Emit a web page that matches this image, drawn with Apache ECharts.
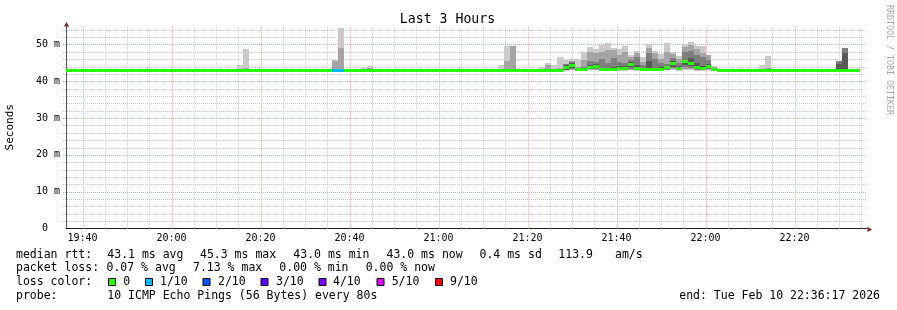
<!DOCTYPE html>
<html><head><meta charset="utf-8">
<script src="https://cdn.jsdelivr.net/npm/echarts@6/dist/echarts.min.js"></script>
<style>html,body{margin:0;padding:0;background:#fff}#c{width:897px;height:310px}</style>
</head><body><div id="c"></div>
<script>
// ---------- data ----------
const timeStart = 70577;      // 19:36:17 (seconds of day)
const timeEnd = 81377;        // 22:36:17
const stepSeconds = 80;
const firstStepStart = 70560; // first RRD step boundary
const timeTicks = ['19:40','20:00','20:20','20:40','21:00','21:20','21:40','22:00','22:20'];
const yMax = 55;
const yTickValues = [0, 10, 20, 30, 40, 50];

// median rtt (ms) per 80 s step
const median = [
 43.0,43.0,43.0,43.0,43.0,43.0,43.0,43.0,43.0,43.0,
 43.0,43.0,43.0,43.0,43.0,43.0,43.0,43.0,43.0,43.0,
 43.0,43.0,43.0,43.0,43.0,43.0,43.0,43.0,43.0,43.0,
 43.0,43.0,43.0,43.0,43.0,43.0,43.0,43.0,43.0,43.0,
 43.0,43.0,43.0,43.0,43.0,43.0,43.0,43.0,43.0,43.0,
 43.0,43.0,43.0,43.0,43.0,43.0,43.0,43.0,43.0,43.0,
 43.0,43.0,43.0,43.0,43.0,43.0,43.0,43.0,43.0,43.0,
 43.0,43.0,43.0,43.0,43.0,43.0,43.0,43.0,43.0,43.0,
 43.0,43.0,43.0,43.0,43.8,44.3,43.1,43.1,43.7,44.1,
 43.1,43.1,43.3,43.4,43.5,44.6,43.5,43.1,43.1,43.1,
 43.2,43.6,44.9,43.4,45.3,44.8,43.6,43.4,43.9,43.1,
 43.0,43.0,43.0,43.0,43.0,43.0,43.0,43.0,43.0,43.0,
 43.0,43.0,43.0,43.0,43.0,43.0,43.0,43.0,43.0,43.0,
 43.0,43.0,43.0,43.0
];
// steps with packet loss and their loss level (index into lossColors)
const lossSteps = [45, 46];
const lossLevels = [1, 1];

// steps with visible smoke and their 10 sorted ping times (ms)
const smokeSteps = [29,30,45,46,50,51,73,74,75,80,81,82,83,84,85,86,87,88,89,90,91,92,93,94,95,96,97,98,99,100,101,102,103,104,105,106,107,108,109,117,118,130,131];
const smokePings = [
 [42.9,43.0,43.0,43.0,43.0,43.0,43.1,43.1,43.3,44.4],
 [42.9,43.0,43.0,43.0,43.0,43.0,43.1,43.2,43.5,48.8],
 [42.9,43.0,43.0,43.0,43.0,43.0,43.1,43.2,45.6,45.7],
 [42.9,43.0,43.0,43.0,43.0,43.0,43.1,43.2,49.0,54.5],
 [42.9,43.0,43.0,43.0,43.0,43.0,43.0,43.1,43.2,43.5],
 [42.9,43.0,43.0,43.0,43.0,43.0,43.1,43.1,43.6,44.1],
 [42.9,43.0,43.0,43.0,43.0,43.0,43.1,43.1,43.3,44.4],
 [42.9,43.0,43.0,43.0,43.0,43.0,43.1,43.2,45.5,49.6],
 [42.9,43.0,43.0,43.0,43.0,43.0,43.1,43.3,49.6,49.7],
 [42.9,43.0,43.0,43.0,43.0,43.0,43.1,43.1,43.2,43.9],
 [42.9,43.0,43.0,43.0,43.0,43.1,43.1,43.2,44.3,45.0],
 [42.9,43.0,43.0,43.0,43.0,43.0,43.1,43.1,43.3,44.4],
 [42.9,43.0,43.0,43.0,43.0,43.1,43.1,43.2,43.6,46.6],
 [42.9,43.0,43.0,43.1,43.4,44.2,44.4,44.6,44.8,45.7],
 [43.0,43.1,43.2,43.5,43.8,44.8,45.0,45.2,45.6,46.0],
 [42.9,43.0,43.0,43.0,43.1,43.1,43.2,43.4,44.0,46.0],
 [42.9,43.0,43.0,43.1,43.1,43.2,43.4,43.9,45.8,47.9],
 [43.0,43.1,43.2,43.4,43.6,43.8,44.3,45.5,47.9,49.4],
 [43.0,43.1,43.3,43.6,43.9,44.3,44.8,45.3,47.6,48.7],
 [42.9,43.0,43.0,43.0,43.1,43.1,43.6,46.0,47.9,49.8],
 [42.9,43.0,43.0,43.0,43.1,43.1,43.5,45.0,48.5,50.3],
 [42.9,43.0,43.0,43.1,43.2,43.4,44.0,46.2,48.4,49.0],
 [42.9,43.0,43.1,43.2,43.3,43.5,44.2,45.3,47.2,48.7],
 [42.9,43.0,43.1,43.2,43.4,43.6,44.2,44.9,48.0,49.7],
 [43.0,43.1,43.3,43.8,44.3,44.9,45.3,45.8,46.5,47.1],
 [42.9,43.0,43.1,43.2,43.4,43.6,44.5,46.7,47.6,48.2],
 [42.9,43.0,43.0,43.0,43.1,43.1,43.4,44.4,45.3,46.5],
 [42.9,43.0,43.0,43.0,43.1,43.1,45.5,47.6,49.0,50.0],
 [42.9,43.0,43.0,43.0,43.1,43.1,43.7,46.0,47.6,48.2],
 [42.9,43.0,43.0,43.1,43.2,43.2,43.9,44.9,46.0,47.3],
 [43.0,43.0,43.1,43.3,43.5,43.7,44.0,44.6,48.0,50.5],
 [43.0,43.2,43.6,44.0,44.6,45.2,45.6,46.2,47.3,47.9],
 [42.9,43.0,43.1,43.2,43.3,43.5,44.2,44.9,46.0,46.9],
 [43.1,43.4,43.9,44.4,45.0,45.6,45.8,48.0,49.4,50.0],
 [43.0,43.3,43.7,44.2,44.6,45.0,46.4,48.2,49.85,50.6],
 [42.9,43.0,43.1,43.3,43.5,43.7,44.9,47.1,48.8,49.7],
 [42.9,43.0,43.1,43.2,43.3,43.5,44.2,46.7,47.6,49.6],
 [43.0,43.1,43.3,43.5,43.8,44.0,44.6,45.8,47.0,47.1],
 [42.9,43.0,43.0,43.0,43.1,43.1,43.2,43.4,43.9,44.2],
 [42.9,43.0,43.0,43.0,43.0,43.0,43.1,43.1,43.3,44.4],
 [42.9,43.0,43.0,43.0,43.0,43.0,43.1,43.2,43.5,46.9],
 [43.0,43.0,43.0,43.0,43.0,43.1,44.6,45.5,45.5,45.5],
 [43.0,43.0,43.0,43.0,43.1,43.1,47.6,49.0,49.0,49.0]
];

// legend texts
const titleText = 'Last 3 Hours';
const yAxisName = 'Seconds';
const lossLabels = ['0','1/10','2/10','3/10','4/10','5/10','9/10'];
const rttStats = ['43.1 ms avg','45.3 ms max','43.0 ms min','43.0 ms now','0.4 ms sd','113.9','am/s'];
const lossStats = ['0.07 % avg','7.13 % max','0.00 % min','0.00 % now'];
const probeText = '10 ICMP Echo Pings (56 Bytes) every 80s';
const endText = 'end: Tue Feb 10 22:36:17 2026';
const creditText = 'RRDTOOL / TOBI OETIKER';

// ---------- styles / layout ----------
const lossColors = ['#26ff00','#00b8ff','#0059ff','#5e00ff','#7e00ff','#dd00ff','#ff0000'];
const smokeGrays = ['#cacaca','#a4a4a4','#7e7e7e','#585858','#323232'];
const minorGrid = '#cccccc';
const majorGrid = '#f2a4a4';
const arrowColor = '#801f1f';
const MONO = '"DejaVu Sans Mono", monospace';
const rttX = [107.3,200,293.3,386.5,479.5,558.3,615];
const lossX = [106.5,193,279.3,365.7];
const boxX = [108.5,145.5,203,261,319,377,435.5];
const boxLabelX = [123.3,160,218,276,333,391.7,450];
const rowY = [254.7,268.3,282.3,296.5];

function toSec(hm){ const [h,m] = hm.split(':').map(Number); return h*3600 + m*60; }
function fmt(sec){ const h = Math.floor(sec/3600), m = Math.floor((sec%3600)/60); return String(h).padStart(2,'0') + ':' + String(m).padStart(2,'0'); }

// grid line positions: vertical every 5 min (major every 20 min), horizontal every 2 ms (major every 10 ms)
const gridLines = [];
for (let t = Math.ceil(timeStart/300)*300; t < timeEnd; t += 300) gridLines.push([t, 0, 0, t % 1200 === 0 ? 1 : 0]);
for (let v = 2; v < yMax; v += 2) gridLines.push([timeStart, v, 1, v % 10 === 0 ? 1 : 0]);

function xRange(api, t0, t1){
  const left = api.coord([timeStart, 0])[0], right = api.coord([timeEnd, 0])[0];
  const x0 = Math.max(left, api.coord([t0, 0])[0]);
  const x1 = Math.min(right, api.coord([t1, 0])[0]);
  return [Math.round(x0), Math.round(x1)];
}

const chart = echarts.init(document.getElementById('c'), null, {renderer:'canvas'});

// legend graphics
const g = [];
function txt(x, y, text, extra){
  g.push(Object.assign({type:'text', x, y, silent:true, style:{text, font:'11.5px ' + MONO, fill:'#000', align:'left', verticalAlign:'middle', textAlign:'left', textVerticalAlign:'middle'}}, extra||{}));
}
g.push({type:'text', x:447.5, y:20, silent:true, style:{text:titleText, font:'13.2px ' + MONO, fill:'#000', align:'center', verticalAlign:'middle', textAlign:'center', textVerticalAlign:'middle'}});
g.push({type:'text', x:889, y:60, rotation:-Math.PI/2, silent:true, style:{text:creditText, font:'8.3px ' + MONO, fill:'#aaaaaa', align:'center', verticalAlign:'middle', textAlign:'center', textVerticalAlign:'middle'}});
txt(16, rowY[0], 'median rtt:');
rttStats.forEach((s,i)=>txt(rttX[i], rowY[0], s));
txt(16, rowY[1], 'packet loss:');
lossStats.forEach((s,i)=>txt(lossX[i], rowY[1], s));
txt(16, rowY[2], 'loss color:');
lossLabels.forEach((s,i)=>{
  g.push({type:'rect', silent:true, shape:{x:boxX[i], y:rowY[2]-3.8, width:7, height:7}, style:{fill:lossColors[i], stroke:'#000', lineWidth:1}});
  txt(boxLabelX[i], rowY[2], s);
});
txt(16, rowY[3], 'probe:');
txt(107.3, rowY[3], probeText);
g.push({type:'text', x:880, y:rowY[3], silent:true, style:{text:endText, font:'11.5px ' + MONO, fill:'#000', align:'right', verticalAlign:'middle', textAlign:'right', textVerticalAlign:'middle'}});

const option = {
  animation: false,
  backgroundColor: '#ffffff',
  grid: {left:66, right:30, top:26, bottom:81.5, containLabel:false, outerBoundsMode:'none'},
  xAxis: {
    type:'value', min:timeStart, max:timeEnd,
    axisLine:{show:true, lineStyle:{color:'#222', width:1}},
    axisTick:{show:false},
    splitLine:{show:false},
    axisLabel:{customValues: timeTicks.map(toSec), formatter: v => fmt(v), color:'#000', fontFamily:MONO, fontSize:10, margin:5}
  },
  yAxis: {
    type:'value', min:0, max:yMax, interval:10,
    name: yAxisName, nameLocation:'middle', nameGap:50, nameRotate:90,
    nameTextStyle:{color:'#000', fontFamily:MONO, fontSize:11},
    axisLine:{show:true, lineStyle:{color:'#555', width:1}},
    axisTick:{show:false},
    axisLabel:{color:'#000', fontFamily:MONO, fontSize:10, margin:6, showMaxLabel:false,
      formatter: v => yTickValues.indexOf(v) < 0 ? '' : (v === 0 ? '0\u00a0\u00a0' : v + ' m')},
    splitLine:{show:false}
  },
  series: [
    { // grid lines
      type:'custom', z:1, silent:true, clip:false,
      data: gridLines,
      renderItem(params, api){
        const vertical = api.value(2) === 0;
        const color = api.value(3) === 1 ? majorGrid : minorGrid;
        let shape;
        if (vertical) {
          const t = api.value(0);
          const x = Math.round(api.coord([t, 0])[0]) + 0.5;
          shape = {x1:x, y1:api.coord([t, 0])[1], x2:x, y2:api.coord([t, yMax])[1]};
        } else {
          const v = api.value(1);
          const y = Math.round(api.coord([timeStart, v])[1]) + 0.5;
          shape = {x1:api.coord([timeStart, v])[0] - 3, y1:y, x2:api.coord([timeEnd, v])[0], y2:y};
        }
        return {type:'line', shape, style:{stroke:color, lineWidth:1, lineDash:[1,1]}};
      }
    },
    { // smoke
      type:'custom', z:2, silent:true,
      data: smokeSteps.map((j,k) => [firstStepStart + j*stepSeconds, smokePings[k][9]]),
      renderItem(params, api){
        const k = params.dataIndex;
        const p = smokePings[k];
        const t0 = api.value(0);
        const [x0, x1] = xRange(api, t0, t0 + stepSeconds);
        const children = [];
        for (let b = 0; b < 5; b++) {
          const lo = p[b], hi = p[9-b];
          if (lo == null || hi == null || hi <= lo) continue;
          const yTop = Math.round(api.coord([t0, hi])[1]);
          const yBot = Math.round(api.coord([t0, lo])[1]);
          if (yBot <= yTop) continue;
          children.push({type:'rect', shape:{x:x0, y:yTop, width:x1-x0, height:yBot-yTop}, style:{fill:smokeGrays[b]}});
        }
        return {type:'group', children};
      }
    },
    { // median
      type:'custom', z:3, silent:true,
      data: median.map((m,j) => [firstStepStart + j*stepSeconds, m]),
      renderItem(params, api){
        const j = params.dataIndex;
        const t0 = api.value(0), m = api.value(1);
        const [x0, x1] = xRange(api, t0, t0 + stepSeconds);
        const yc = api.coord([t0, m])[1];
        const li = lossSteps.indexOf(j);
        const level = li >= 0 ? lossLevels[li] : 0;
        return {type:'rect', shape:{x:x0, y:Math.round(yc - 1.5), width:x1-x0, height:3}, style:{fill:lossColors[level]}};
      }
    },
    { // axis arrows
      type:'custom', z:4, silent:true, clip:false,
      data: [[timeStart, yMax, 0], [timeEnd, 0, 1]],
      renderItem(params, api){
        const p = api.coord([api.value(0), api.value(1)]);
        const x = Math.round(p[0]) + 0.5, y = Math.round(p[1]) + 0.5;
        const pts = api.value(2) === 0
          ? [[x-2.5, y], [x+2.5, y], [x, y-4.5]]
          : [[x, y-2.5], [x, y+2.5], [x+4.5, y]];
        return {type:'polygon', shape:{points:pts}, style:{fill:arrowColor}};
      }
    }
  ],
  graphic: {elements: g}
};
chart.setOption(option);
</script>
</body></html>
